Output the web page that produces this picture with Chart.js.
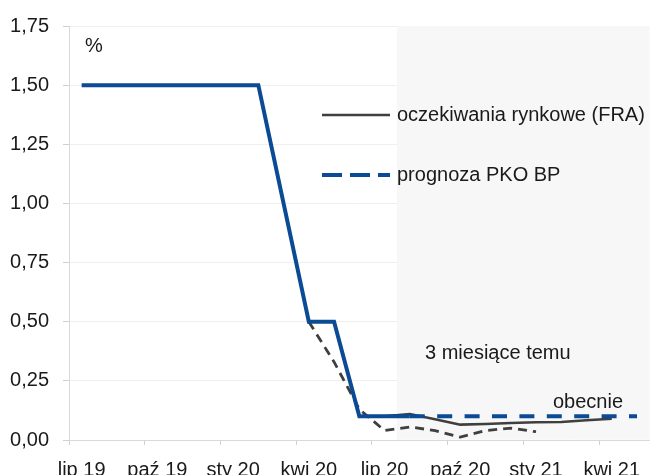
<!DOCTYPE html>
<html>
<head>
<meta charset="utf-8">
<script src="https://cdn.jsdelivr.net/npm/chart.js@4/dist/chart.umd.min.js"></script>
<style>
  html, body { margin: 0; padding: 0; background: #fff; }
  #wrap { width: 650px; height: 475px; }
</style>
</head>
<body>
<div id="wrap"><canvas id="rates"></canvas></div>
<script>
const months = ['lip 19', 'sie 19', 'wrz 19', 'paź 19', 'lis 19', 'gru 19',
  'sty 20', 'lut 20', 'mar 20', 'kwi 20', 'maj 20', 'cze 20',
  'lip 20', 'sie 20', 'wrz 20', 'paź 20', 'lis 20', 'gru 20',
  'sty 21', 'lut 21', 'mar 21', 'kwi 21', 'maj 21'];

// stopa referencyjna NBP (faktyczna)
const nbpRate = [1.5, 1.5, 1.5, 1.5, 1.5, 1.5, 1.5, 1.5, 1.0, 0.5, 0.5, 0.1,
  0.1, 0.1, null, null, null, null, null, null, null, null, null];
// prognoza PKO BP
const pkoForecast = [null, null, null, null, null, null, null, null, null, null, null, null,
  null, 0.1, 0.1, 0.1, 0.1, 0.1, 0.1, 0.1, 0.1, 0.1, 0.1];
// FRA obecnie
const fraNow = [null, null, null, null, null, null, null, null, null, null, null, null,
  0.1, 0.11, 0.088, 0.065, 0.068, 0.072, 0.075, 0.076, 0.083, 0.09, null];
// FRA 3 miesiace temu
const fra3mAgo = [null, null, null, null, null, null, null, null, null, 0.5, 0.33, 0.13,
  0.04, 0.055, 0.04, 0.012, 0.04, 0.05, 0.035, null, null, null, null];
// okres prognozy (tlo)
const forecastZone = [null, null, null, null, null, null, null, null, null, null, null, null,
  null, 1.75, 1.75, 1.75, 1.75, 1.75, 1.75, 1.75, 1.75, 1.75, 1.75];

const yTicks = [0, 0.25, 0.5, 0.75, 1, 1.25, 1.5, 1.75];

const FONT = '"Liberation Sans", sans-serif';
const BLUE = '#0b4a94';
const GREY = '#3f3f3f';

const notes = {
  id: 'notes',
  afterDatasetsDraw(chart) {
    const ctx = chart.ctx;
    ctx.save();
    ctx.font = '20px ' + FONT;
    ctx.fillStyle = '#1a1a1a';
    ctx.textBaseline = 'middle';
    ctx.textAlign = 'left';

    // legend
    ctx.strokeStyle = GREY;
    ctx.lineWidth = 2.5;
    ctx.beginPath();
    ctx.moveTo(322, 115);
    ctx.lineTo(390, 115);
    ctx.stroke();
    ctx.fillText('oczekiwania rynkowe (FRA)', 397, 115);

    ctx.strokeStyle = BLUE;
    ctx.lineWidth = 4;
    ctx.setLineDash([20, 8]);
    ctx.beginPath();
    ctx.moveTo(322, 175);
    ctx.lineTo(390, 175);
    ctx.stroke();
    ctx.setLineDash([]);
    ctx.fillText('prognoza PKO BP', 397, 175);

    ctx.fillText('%', 85, 46);
    ctx.fillText('3 miesiące temu', 425, 353);
    ctx.fillText('obecnie', 553, 402);
    ctx.restore();
  }
};

new Chart(document.getElementById('rates'), {
  type: 'bar',
  data: {
    labels: months,
    datasets: [
      {
        type: 'line',
        data: nbpRate,
        borderColor: BLUE,
        borderWidth: 4,
        pointRadius: 0,
        tension: 0,
        order: 0
      },
      {
        type: 'line',
        data: pkoForecast,
        borderColor: BLUE,
        borderWidth: 4,
        borderDash: [15, 12.4],
        pointRadius: 0,
        tension: 0,
        order: 1
      },
      {
        type: 'line',
        data: fraNow,
        borderColor: GREY,
        borderWidth: 2.5,
        pointRadius: 0,
        tension: 0,
        order: 2
      },
      {
        type: 'line',
        data: fra3mAgo,
        borderColor: GREY,
        borderWidth: 2.8,
        borderDash: [9, 6],
        pointRadius: 0,
        tension: 0,
        order: 3
      },
      {
        data: forecastZone,
        backgroundColor: '#f7f7f7',
        barPercentage: 1,
        categoryPercentage: 1,
        order: 10
      }
    ]
  },
  options: {
    responsive: true,
    maintainAspectRatio: false,
    animation: false,
    layout: { padding: { top: 24, right: 0, left: 0, bottom: 0 } },
    plugins: { legend: { display: false }, tooltip: { enabled: false } },
    scales: {
      x: {
        offset: true,
        grid: {
          offset: true,
          drawOnChartArea: false,
          tickLength: 5,
          color: c => (c.index % 3 === 0 ? '#d0d0d0' : 'rgba(0,0,0,0)')
        },
        border: { color: '#d9d9d9' },
        ticks: {
          autoSkip: false,
          maxRotation: 0,
          padding: 13,
          color: '#1a1a1a',
          font: { family: FONT, size: 20 },
          callback: (v, i) => (i % 3 === 0 ? months[i] : '')
        },
        afterFit: s => { s.height = 35; }
      },
      y: {
        min: 0,
        max: 1.75,
        afterBuildTicks: s => { s.ticks = yTicks.map(v => ({ value: v })); },
        grid: { color: '#efefef', tickColor: '#d0d0d0', tickLength: 6 },
        border: { color: '#d9d9d9' },
        ticks: {
          padding: 14,
          color: '#1a1a1a',
          font: { family: FONT, size: 20 },
          callback: v => v.toFixed(2).replace('.', ',')
        },
        afterFit: s => { s.width = 69; }
      }
    }
  },
  plugins: [notes]
});
</script>
</body>
</html>
